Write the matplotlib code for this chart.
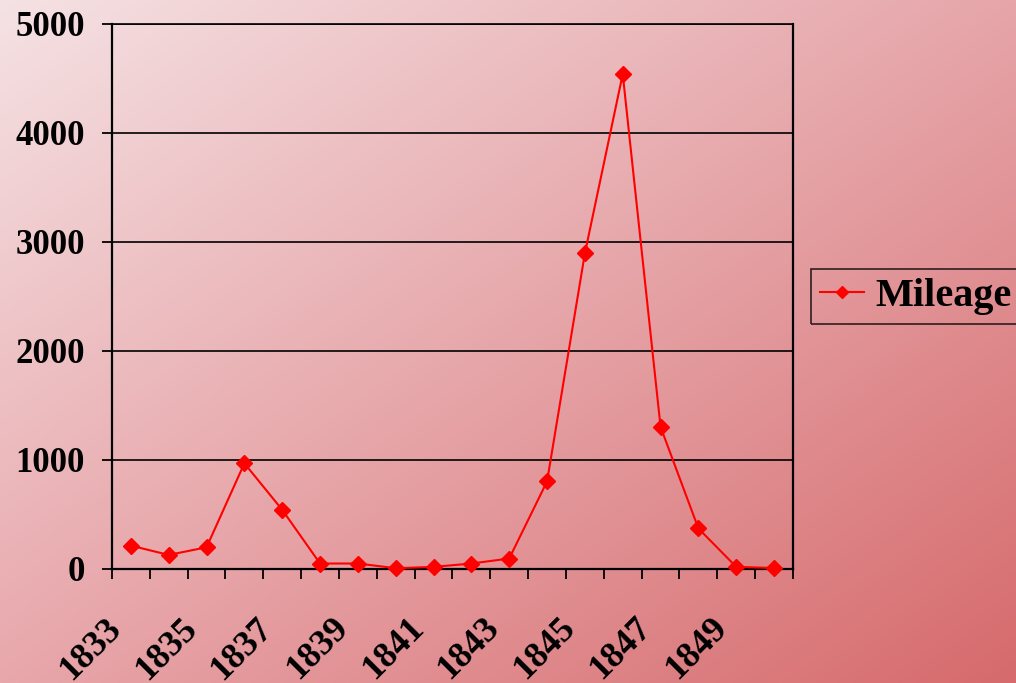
import matplotlib
matplotlib.use("Agg")
import matplotlib.pyplot as plt
import numpy as np

anos = [1833, 1834, 1835, 1836, 1837, 1838, 1839, 1840, 1841,
        1842, 1843, 1844, 1845, 1846, 1847, 1848, 1849, 1850]
milhas = [210, 125, 195, 966, 539, 46, 46, 3, 15,
          46, 92, 800, 2895, 4540, 1300, 368, 15, 5]
rotulos_y = [0, 1000, 2000, 3000, 4000, 5000]

plt.rcParams['font.family'] = ['Liberation Serif', 'DejaVu Serif']
plt.rcParams['font.weight'] = 'bold'

fig = plt.figure(figsize=(10.16, 6.83), dpi=100)

# fundo em degrade diagonal (claro no canto superior esquerdo)
fundo = fig.add_axes([0, 0, 1, 1], zorder=-10)
cantos = np.array([
    [[245, 226, 228], [230, 165, 169]],
    [[232, 167, 171], [214, 106, 108]],
]) / 255.0
t = np.linspace(0, 1, 300)
u, v = np.meshgrid(t, t)
grad = (cantos[0, 0] * ((1 - u) * (1 - v))[..., None]
        + cantos[0, 1] * (u * (1 - v))[..., None]
        + cantos[1, 0] * ((1 - u) * v)[..., None]
        + cantos[1, 1] * (u * v)[..., None])
fundo.imshow(grad, aspect='auto', extent=[0, 1, 0, 1], origin='upper')
fundo.axis('off')

ax = fig.add_axes([0.1102, 0.1676, 0.6703, 0.7973])
ax.set_facecolor('none')

x = np.arange(len(anos))
ax.plot(x, milhas, color='#ff0000', lw=1.5, marker='D', ms=8,
        label='Mileage', clip_on=False, zorder=3)

ax.set_xlim(-0.5, len(anos) - 0.5)
ax.set_ylim(0, 5000)
ax.set_yticks(rotulos_y)
ax.set_yticklabels([str(r) for r in rotulos_y], fontsize=25, fontweight='bold')

# marcas entre categorias; rotulos a cada dois anos, inclinados
ax.set_xticks(np.arange(-0.5, len(anos)))
ax.set_xticklabels([])
ax.tick_params(axis='x', length=7.5, width=1.3, direction='out')
for xi, ano in zip(x[::2], anos[::2]):
    ax.annotate(str(ano), xy=(xi, 0), xycoords=ax.get_xaxis_transform(),
                xytext=(-10.5, -39.5), textcoords='offset points',
                fontsize=26, fontweight='bold', rotation=45,
                ha='right', va='center', rotation_mode='anchor',
                annotation_clip=False)
ax.tick_params(axis='y', length=7.5, width=1.3, pad=12)

ax.grid(axis='y', color='black', lw=1.2)
ax.set_axisbelow(True)
for lado in ['left', 'bottom', 'right']:
    ax.spines[lado].set_linewidth(1.6)
ax.spines['top'].set_linewidth(1.2)

leg = ax.legend(loc='center left', bbox_to_anchor=(0.7982, 0.566),
                bbox_transform=fig.transFigure, fontsize=29, frameon=True,
                fancybox=False, edgecolor='black', facecolor='none',
                handlelength=1.1, handletextpad=0.28, borderpad=0.22,
                borderaxespad=0, markerscale=0.8)
leg.get_frame().set_linewidth(1.2)

fig.savefig('out.png', dpi=100)
